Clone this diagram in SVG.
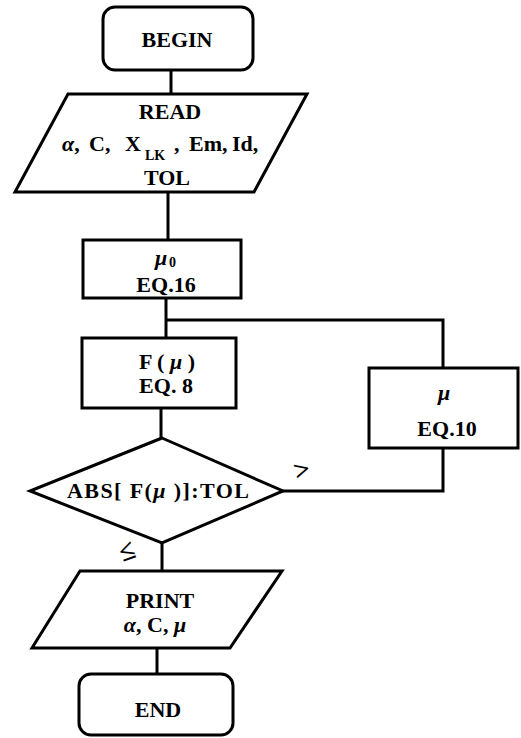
<svg xmlns="http://www.w3.org/2000/svg" width="521" height="738" viewBox="0 0 521 738">
<style>
.s{fill:#fff;stroke:#000;stroke-width:3;stroke-linejoin:miter}
.c{fill:none;stroke:#000;stroke-width:3}
text{font-family:"Liberation Serif","Times New Roman",serif;font-weight:bold;font-size:22px;fill:#000}
.m{text-anchor:middle}
.g{font-style:italic}
.sub{font-size:14px}
.lbl{font-size:28px}
</style>
<rect width="521" height="738" fill="#fff"/>
<g id="connectors">
<path class="c" d="M171,70V94"/>
<path class="c" d="M168,192V240"/>
<path class="c" d="M166,298V338"/>
<path class="c" d="M166,320H443V368"/>
<path class="c" d="M161,408V438"/>
<path class="c" d="M443,448V491H283"/>
<path class="c" d="M162,543V571"/>
<path class="c" d="M157,648V674"/>
<text x="302" y="479" class="m lbl" transform="rotate(-15 302 470)">&gt;</text>
<text x="127" y="560" class="m lbl" transform="rotate(-20 127 551)">≤</text>
</g>
<g id="begin">
<rect class="s" x="103" y="7" width="150" height="63" rx="12"/>
<text x="177" y="47" class="m">BEGIN</text>
</g>
<g id="read">
<path class="s" d="M68,94H307L254,192H15Z"/>
<text x="170" y="119" class="m">READ</text>
<text y="151"><tspan x="62" class="g">α</tspan><tspan>,</tspan><tspan x="89">C,</tspan><tspan x="125">X</tspan><tspan x="145" y="160" class="sub">LK</tspan><tspan x="174" y="151">,</tspan><tspan x="189">Em,</tspan><tspan x="232">Id,</tspan></text>
<text x="167" y="185" class="m">TOL</text>
</g>
<g id="mu0">
<rect class="s" x="83" y="240" width="158" height="58"/>
<text x="155" y="265"><tspan class="g">μ</tspan><tspan x="169" y="267" class="sub">0</tspan></text>
<text x="166" y="292" class="m">EQ.16</text>
</g>
<g id="fmu">
<rect class="s" x="82" y="338" width="154" height="70"/>
<text x="167" y="369" class="m">F ( <tspan class="g">μ</tspan> )</text>
<text x="166" y="393" class="m">EQ. 8</text>
</g>
<g id="mu">
<rect class="s" x="369" y="368" width="149" height="80"/>
<text x="444" y="400" class="m g">μ</text>
<text x="447" y="436" class="m">EQ.10</text>
</g>
<g id="decision">
<path class="s" d="M162,438L283,491L162,543L30,491Z"/>
<text x="158" y="498" class="m" textLength="182" lengthAdjust="spacing">ABS[ F(<tspan class="g">μ</tspan> )]:TOL</text>
</g>
<g id="print">
<path class="s" d="M80,571H282L230,648H32Z"/>
<text x="160" y="608" class="m">PRINT</text>
<text x="155" y="632" class="m"><tspan class="g">α</tspan>, C, <tspan class="g">μ</tspan></text>
</g>
<g id="end">
<rect class="s" x="79" y="674" width="154" height="61" rx="12"/>
<text x="158" y="717" class="m">END</text>
</g>
</svg>
